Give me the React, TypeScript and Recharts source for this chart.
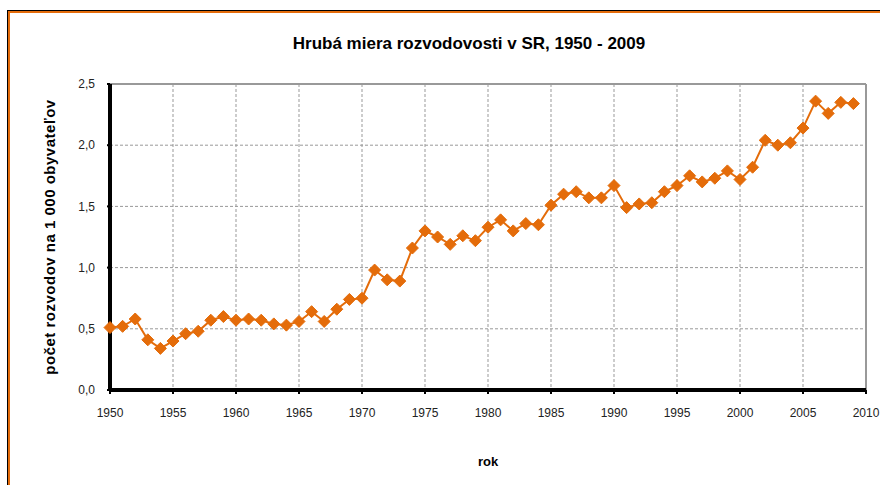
import { LineChart, Line, CartesianGrid, XAxis, YAxis, ReferenceLine, Label } from 'recharts';

const years = [
  1950, 1951, 1952, 1953, 1954, 1955, 1956, 1957, 1958, 1959,
  1960, 1961, 1962, 1963, 1964, 1965, 1966, 1967, 1968, 1969,
  1970, 1971, 1972, 1973, 1974, 1975, 1976, 1977, 1978, 1979,
  1980, 1981, 1982, 1983, 1984, 1985, 1986, 1987, 1988, 1989,
  1990, 1991, 1992, 1993, 1994, 1995, 1996, 1997, 1998, 1999,
  2000, 2001, 2002, 2003, 2004, 2005, 2006, 2007, 2008, 2009,
];

const divorceRate = [
  0.51, 0.52, 0.58, 0.41, 0.34, 0.40, 0.46, 0.48, 0.57, 0.60,
  0.57, 0.58, 0.57, 0.54, 0.53, 0.56, 0.64, 0.56, 0.66, 0.74,
  0.75, 0.98, 0.90, 0.89, 1.16, 1.30, 1.25, 1.19, 1.26, 1.22,
  1.33, 1.39, 1.30, 1.36, 1.35, 1.51, 1.60, 1.62, 1.57, 1.57,
  1.67, 1.49, 1.52, 1.53, 1.62, 1.67, 1.75, 1.70, 1.73, 1.79,
  1.72, 1.82, 2.04, 2.00, 2.02, 2.14, 2.36, 2.26, 2.35, 2.34,
];

const xTicks = [1950, 1955, 1960, 1965, 1970, 1975, 1980, 1985, 1990, 1995, 2000, 2005, 2010];
const yTicks = [0, 0.5, 1, 1.5, 2, 2.5];

const ORANGE = '#E46C0A';
const FONT = '"Liberation Sans", Arial, sans-serif';

const data = years.map((year, i) => ({ year, value: divorceRate[i] }));

const Diamond = (props: any) => {
  const { cx, cy } = props;
  if (cx == null || cy == null) return null;
  const r = 6;
  return (
    <path
      d={`M${cx},${cy - r} L${cx + r},${cy} L${cx},${cy + r} L${cx - r},${cy} Z`}
      fill={ORANGE}
      stroke={ORANGE}
      strokeWidth={1}
    />
  );
};

const App = () => {
  return (
    <div
      style={{
        position: 'absolute',
        left: 0,
        top: 0,
        width: 880,
        height: 485,
        background: '#fff',
        overflow: 'hidden',
        fontFamily: FONT,
      }}
    >
      {/* frame of the chart area, runs off the right and bottom edge */}
      <div
        style={{
          position: 'absolute',
          left: 7,
          top: 10,
          width: 900,
          height: 500,
          borderTop: '1px solid #000',
          borderLeft: '1px solid #000',
        }}
      >
        <div
          style={{
            width: '100%',
            height: '100%',
            borderTop: `2px solid ${ORANGE}`,
            borderLeft: `2px solid ${ORANGE}`,
          }}
        />
      </div>

      <div
        style={{
          position: 'absolute',
          left: 0,
          width: 880,
          top: 34,
          textAlign: 'center',
          paddingLeft: 58,
          boxSizing: 'border-box',
          fontSize: 17,
          fontWeight: 'bold',
          color: '#000',
        }}
      >
        Hrubá miera rozvodovosti v SR, 1950 - 2009
      </div>

      <div style={{ position: 'absolute', left: 0, top: 0 }}>
        <LineChart
          width={880}
          height={485}
          data={data}
          margin={{ top: 84, right: 14, left: 40, bottom: 35 }}
        >
          <CartesianGrid strokeDasharray="3 2" stroke="#999" />
          <XAxis
            dataKey="year"
            type="number"
            domain={[1950, 2010]}
            ticks={xTicks}
            interval={0}
            height={60}
            tickSize={4}
            tickMargin={14}
            stroke="#000"
            tickLine={{ stroke: '#000', strokeWidth: 2 }}
            axisLine={{ stroke: '#000', strokeWidth: 3 }}
            tick={{ fontSize: 12, fill: '#222', fontFamily: FONT }}
          >
            <Label
              value="rok"
              position="bottom"
              offset={7}
              style={{ fontSize: 13, fontWeight: 'bold', fill: '#000', fontFamily: FONT }}
            />
          </XAxis>
          <YAxis
            type="number"
            domain={[0, 2.5]}
            ticks={yTicks}
            width={70}
            tickSize={3}
            tickMargin={12}
            stroke="#000"
            tickLine={{ stroke: '#000', strokeWidth: 2 }}
            axisLine={{ stroke: '#000', strokeWidth: 3 }}
            tickFormatter={(v: number) => v.toFixed(1).replace('.', ',')}
            tick={{ fontSize: 12, fill: '#222', fontFamily: FONT }}
          >
            <Label
              value="počet rozvodov na 1 000 obyvateľov"
              angle={-90}
              position="insideLeft"
              offset={10}
              style={{
                textAnchor: 'middle',
                fontSize: 15,
                letterSpacing: 0.5,
                fontWeight: 'bold',
                fill: '#000',
                fontFamily: FONT,
              }}
            />
          </YAxis>
          <ReferenceLine y={2.5} stroke="#999" strokeWidth={2} />
          <ReferenceLine x={2010} stroke="#999" strokeWidth={2} />
          <ReferenceLine y={0} stroke="#000" strokeWidth={4} />
          <ReferenceLine x={1950} stroke="#000" strokeWidth={4} />
          <Line
            type="linear"
            dataKey="value"
            stroke={ORANGE}
            strokeWidth={2}
            dot={<Diamond />}
            activeDot={false}
            isAnimationActive={false}
          />
        </LineChart>
      </div>
    </div>
  );
};

export default App;
